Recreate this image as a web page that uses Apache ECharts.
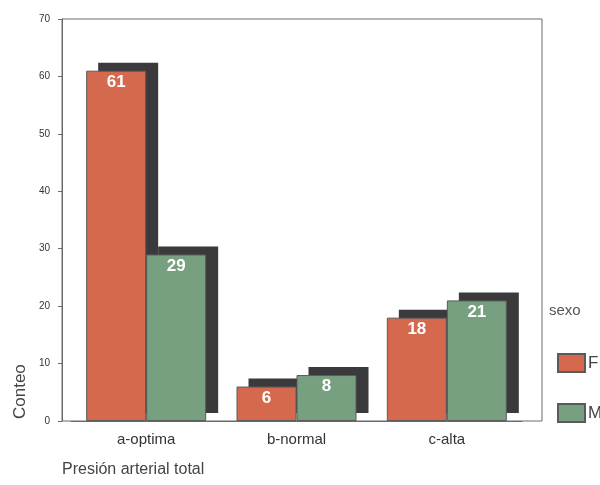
<!DOCTYPE html>
<html>
<head>
<meta charset="utf-8">
<script src="https://cdn.jsdelivr.net/npm/echarts@6/dist/echarts.min.js"></script>
<style>
  html, body { margin: 0; padding: 0; background: #fff; }
  #chart { width: 600px; height: 485px; }
</style>
</head>
<body>
<div id="chart"></div>
<script>
// categorias y conteos por sexo
const categories = ["a-optima", "b-normal", "c-alta"];
const valuesF = [61, 6, 18];
const valuesM = [29, 8, 21];
const yTicks = { min: 0, max: 70, interval: 10 };

const colorF = "#D4694D";
const colorM = "#76A07F";
const shadowColor = "#3A3A3C";
const barW = 60;

const chart = echarts.init(document.getElementById("chart"));

// sombra desplazada detras de cada barra
function shadowSeries(values, side) {
  return {
    type: "custom",
    xAxisIndex: 1,
    yAxisIndex: 1,
    z: 1,
    silent: true,
    data: values.map((v, i) => [i, v]),
    renderItem: (params, api) => {
      const top = api.coord([api.value(0), api.value(1)]);
      const base = api.coord([api.value(0), 0]);
      const x = side < 0 ? top[0] - barW : top[0];
      return {
        type: "rect",
        shape: { x: x + 12, y: top[1] - 8, width: barW, height: base[1] - top[1] },
        style: { fill: shadowColor },
      };
    },
  };
}

function barSeries(name, values, color) {
  return {
    name: name,
    type: "bar",
    xAxisIndex: 1,
    yAxisIndex: 1,
    z: 2,
    barWidth: barW,
    barGap: "0%",
    data: values,
    itemStyle: { color: color, borderColor: "#5a5a5a", borderWidth: 1 },
    label: {
      show: true,
      position: "insideTop",
      distance: 3,
      color: "#fff",
      fontWeight: "bold",
      fontSize: 17,
      fontFamily: "Liberation Sans",
    },
  };
}

chart.setOption({
  animation: false,
  textStyle: { fontFamily: "Liberation Sans" },
  grid: [
    { left: 62, top: 19, width: 480, height: 402, show: true, borderColor: "#6a6a6a", borderWidth: 1 },
    { left: 71, top: 19, width: 451, height: 402 },
  ],
  xAxis: [
    { gridIndex: 0, type: "value", show: false },
    {
      gridIndex: 1,
      type: "category",
      data: categories,
      axisLine: { lineStyle: { color: "#6a6a6a" } },
      axisTick: { alignWithLabel: true, length: 4, lineStyle: { color: "#6a6a6a" } },
      axisLabel: { color: "#333", fontSize: 15, margin: 11 },
    },
  ],
  yAxis: [
    {
      gridIndex: 0,
      type: "value",
      min: yTicks.min,
      max: yTicks.max,
      interval: yTicks.interval,
      axisLine: { show: true, lineStyle: { color: "#6a6a6a" } },
      axisTick: { show: true, length: 4, lineStyle: { color: "#6a6a6a" } },
      axisLabel: { color: "#333", fontSize: 10, margin: 12 },
      splitLine: { show: false },
    },
    { gridIndex: 1, type: "value", min: yTicks.min, max: yTicks.max, show: false },
  ],
  legend: {
    orient: "vertical",
    left: 552,
    top: 348,
    itemWidth: 27,
    itemHeight: 18,
    itemGap: 30,
    icon: "rect",
    data: ["F", "M"],
    textStyle: { color: "#444", fontSize: 17, padding: [0, 0, 0, -2] },
  },
  graphic: [
    {
      type: "text",
      left: 549,
      top: 303,
      style: { text: "sexo", fill: "#555", fontSize: 15, fontFamily: "Liberation Sans" },
    },
    {
      type: "text",
      x: 12,
      y: 419,
      rotation: Math.PI / 2,
      style: { text: "Conteo", fill: "#444", fontSize: 17, fontFamily: "Liberation Sans" },
    },
    {
      type: "text",
      left: 62,
      top: 462,
      style: { text: "Presión arterial total", fill: "#444", fontSize: 16, fontFamily: "Liberation Sans" },
    },
  ],
  series: [
    shadowSeries(valuesF, -1),
    shadowSeries(valuesM, 1),
    barSeries("F", valuesF, colorF),
    barSeries("M", valuesM, colorM),
  ],
});
</script>
</body>
</html>
